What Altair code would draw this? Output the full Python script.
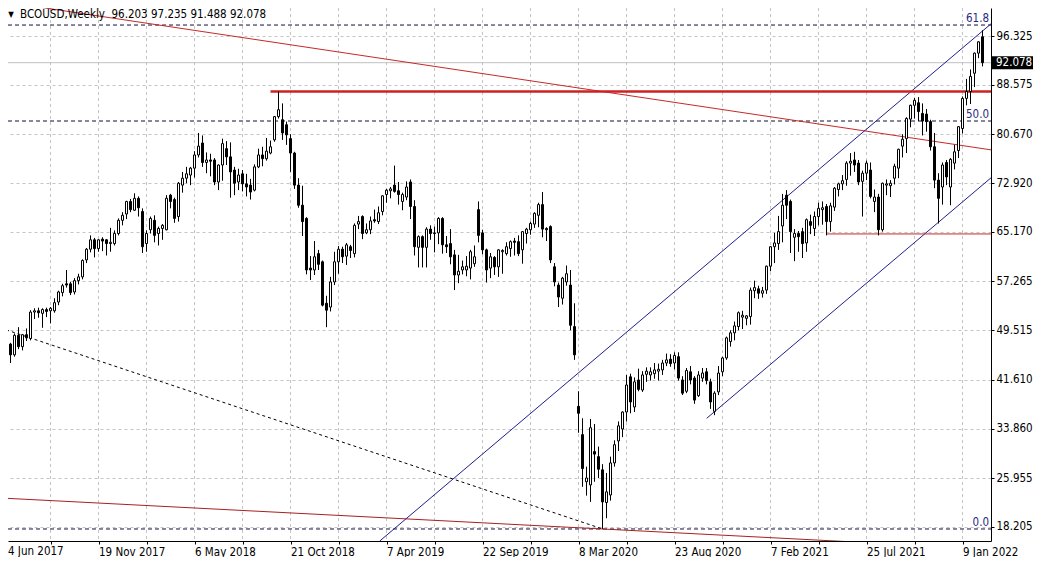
import altair as alt
import pandas as pd

# ---------------- data ----------------
x_labels = ["4 Jun 2017", "19 Nov 2017", "6 May 2018", "21 Oct 2018", "7 Apr 2019",
            "22 Sep 2019", "8 Mar 2020", "23 Aug 2020", "7 Feb 2021", "25 Jul 2021", "9 Jan 2022"]
price_ticks = [96.325, 88.575, 80.670, 72.920, 65.170, 57.265, 49.515, 41.610, 33.860, 25.955, 18.205]

opens = [50.1, 48.2, 47.3, 45.6, 48.7, 46.9, 48.8, 48.2, 52.4, 52.6, 52.2, 52.8, 52.6, 52.6, 54.0, 55.5,
         56.9, 56.9, 55.6, 57.4, 58.0, 60.7, 62.4, 63.9, 62.5, 64.0, 63.9, 63.3, 63.3, 64.9, 67.0, 68.0,
         70.0, 68.6, 70.5, 68.4, 63.3, 65.5, 67.0, 64.9, 65.7, 65.5, 71.0, 70.3, 67.6, 72.6, 73.7, 74.2,
         75.3, 77.4, 79.3, 76.2, 76.6, 76.6, 73.1, 75.8, 78.4, 77.1, 75.0, 73.1, 74.4, 72.8, 72.6, 71.8,
         75.5, 77.4, 76.8, 77.7, 79.8, 83.5, 83.0, 82.2, 80.0, 77.7, 72.6, 69.4, 67.3, 59.4, 59.1, 61.7,
         60.4, 53.8, 53.2, 57.2, 60.4, 62.4, 61.3, 62.8, 61.7, 66.4, 67.6, 65.0, 65.5, 67.1, 66.8, 68.4,
         71.1, 71.7, 72.6, 71.7, 70.0, 70.7, 73.1, 69.2, 62.7, 64.4, 62.7, 65.6, 65.0, 65.0, 67.3, 63.1,
         63.3, 61.5, 58.3, 59.1, 59.1, 59.4, 60.1, 68.7, 65.0, 62.3, 59.4, 61.1, 59.6, 62.0, 61.7, 62.5,
         63.7, 63.6, 62.3, 64.9, 65.5, 66.4, 67.8, 69.5, 65.7, 66.0, 59.6, 56.7, 54.6, 57.2, 56.7, 50.1,
         37.4, 32.9, 25.4, 24.9, 30.2, 29.4, 27.3, 22.1, 23.3, 28.4, 31.9, 33.8, 36.5, 42.1, 37.3, 41.6,
         40.0, 42.5, 42.4, 42.6, 43.0, 43.2, 44.3, 44.9, 44.3, 45.3, 41.6, 39.8, 42.9, 41.9, 39.1, 41.9,
         42.9, 41.3, 36.6, 39.7, 42.9, 45.1, 47.7, 49.1, 50.1, 51.6, 51.4, 51.7, 55.8, 56.1, 55.4, 55.9,
         59.7, 62.8, 63.3, 66.1, 71.0, 70.0, 64.3, 64.9, 65.2, 63.4, 66.8, 65.7, 67.6, 68.7, 69.2, 66.8,
         69.1, 71.9, 72.8, 73.5, 76.1, 76.6, 76.1, 73.2, 74.5, 75.0, 70.0, 70.7, 65.5, 72.6, 72.5, 73.7,
         75.3, 78.8, 80.0, 83.1, 85.3, 85.7, 84.0, 83.9, 82.7, 78.7, 73.4, 72.3, 76.2, 72.3, 76.1, 78.1,
         81.6, 86.4, 87.5, 90.4, 93.6, 96.203]
highs = [50.5, 48.6, 47.5, 49.0, 50.0, 48.9, 49.8, 52.7, 53.0, 53.1, 53.0, 53.1, 53.2, 54.6, 55.8, 56.9,
         59.1, 57.2, 57.8, 58.5, 60.8, 62.6, 64.6, 64.2, 64.0, 64.3, 64.0, 65.8, 65.4, 67.3, 68.3, 70.1,
         70.4, 71.3, 70.8, 68.9, 65.4, 67.6, 67.8, 66.0, 66.4, 71.0, 71.2, 70.6, 73.1, 74.7, 75.5, 75.5,
         78.0, 80.9, 80.5, 77.8, 77.6, 76.9, 75.9, 80.0, 79.6, 79.4, 75.5, 75.2, 75.0, 74.4, 73.6, 75.9,
         78.4, 78.7, 80.1, 79.7, 83.6, 87.5, 85.6, 82.7, 80.7, 77.9, 73.7, 72.5, 67.5, 61.3, 63.7, 62.3,
         60.6, 55.0, 58.0, 62.0, 62.9, 62.8, 63.4, 63.1, 66.5, 67.7, 67.8, 66.5, 67.6, 68.7, 69.2, 71.0,
         72.0, 72.3, 75.7, 73.1, 71.4, 73.2, 73.5, 70.2, 64.6, 64.6, 65.9, 66.2, 66.0, 67.5, 67.5, 64.5,
         65.6, 62.3, 61.5, 60.6, 61.3, 62.3, 63.0, 70.0, 65.5, 62.5, 61.8, 61.3, 62.4, 62.4, 63.5, 63.8,
         64.2, 64.6, 65.3, 65.8, 66.8, 68.3, 69.8, 71.5, 65.9, 66.2, 60.2, 57.1, 58.0, 59.8, 59.1, 53.8,
         39.8, 35.5, 27.8, 35.4, 34.6, 31.0, 28.2, 26.8, 29.4, 32.0, 35.0, 36.6, 42.4, 42.6, 42.0, 43.4,
         43.0, 43.6, 43.6, 44.3, 44.2, 44.8, 45.8, 45.7, 46.0, 46.0, 42.2, 43.5, 43.8, 42.2, 43.0, 43.5,
         43.5, 41.8, 39.8, 43.8, 45.3, 48.5, 49.5, 50.9, 52.5, 52.6, 51.9, 56.3, 57.4, 56.6, 56.4, 59.8,
         62.9, 65.0, 67.7, 71.2, 71.8, 70.3, 65.6, 65.3, 65.8, 67.3, 67.9, 68.4, 69.8, 70.0, 69.6, 69.8,
         72.3, 73.0, 74.2, 76.4, 77.7, 77.9, 76.6, 74.9, 76.5, 76.2, 71.9, 71.2, 73.0, 73.5, 73.4, 76.0,
         78.4, 80.7, 83.4, 85.4, 86.5, 86.6, 85.6, 84.7, 83.0, 80.9, 74.5, 76.2, 76.6, 76.9, 79.0, 82.0,
         86.7, 89.5, 91.0, 93.7, 95.5, 97.235]
lows = [47.6, 46.3, 44.3, 45.3, 46.5, 46.3, 47.8, 47.9, 51.3, 51.5, 49.9, 51.6, 50.6, 52.3, 53.5, 54.9,
        56.3, 55.1, 55.2, 56.8, 57.6, 60.2, 61.9, 61.1, 62.0, 62.1, 61.4, 62.0, 63.0, 64.6, 66.2, 67.2,
        68.3, 68.5, 67.6, 61.8, 62.0, 64.9, 63.5, 63.0, 63.9, 65.4, 68.9, 66.6, 66.8, 71.4, 72.9, 72.6,
        73.8, 77.0, 75.5, 74.5, 74.0, 72.6, 71.8, 73.3, 75.8, 70.6, 71.0, 71.8, 71.6, 70.8, 70.3, 71.6,
        75.3, 75.6, 76.5, 77.5, 79.5, 83.2, 79.8, 79.0, 74.7, 72.0, 69.0, 64.5, 58.4, 57.5, 58.3, 59.1,
        53.3, 50.0, 52.5, 56.7, 58.5, 60.2, 59.9, 61.0, 61.1, 65.6, 64.0, 64.8, 64.8, 66.6, 66.4, 67.8,
        69.8, 70.5, 71.4, 69.5, 68.6, 70.2, 67.2, 61.4, 59.5, 59.5, 59.5, 63.9, 61.9, 63.2, 61.7, 61.8,
        60.0, 55.9, 57.0, 58.4, 58.1, 57.6, 59.6, 63.5, 61.6, 57.1, 57.8, 58.3, 58.0, 58.5, 61.4, 61.2,
        61.4, 61.3, 60.1, 63.3, 64.7, 65.8, 65.9, 64.3, 63.7, 60.2, 56.5, 53.2, 53.6, 56.6, 49.5, 44.8,
        33.2, 24.6, 23.2, 22.2, 25.4, 26.0, 17.9, 19.6, 22.4, 27.8, 30.3, 32.5, 35.0, 36.3, 36.5, 39.8,
        39.7, 41.3, 41.5, 41.8, 41.5, 42.4, 43.8, 43.7, 43.3, 41.5, 39.2, 39.5, 40.9, 37.8, 38.9, 41.3,
        40.9, 37.0, 36.0, 39.2, 42.2, 44.8, 46.9, 47.9, 49.5, 49.7, 50.3, 50.4, 54.6, 54.5, 54.7, 55.3,
        58.9, 60.2, 62.3, 63.5, 67.2, 61.8, 60.5, 62.0, 61.0, 62.0, 64.8, 64.5, 66.2, 66.3, 64.6, 65.2,
        68.5, 70.8, 71.8, 72.5, 74.1, 74.7, 72.6, 67.6, 73.4, 70.5, 68.3, 64.6, 65.2, 71.0, 70.7, 72.7,
        73.7, 77.0, 77.7, 81.8, 83.2, 82.8, 80.5, 81.1, 78.1, 72.1, 66.5, 69.5, 72.6, 69.4, 75.1, 76.9,
        80.8, 85.3, 85.5, 88.2, 92.8, 91.488]
closes = [48.0, 47.3, 45.6, 48.7, 46.9, 48.8, 48.3, 52.4, 52.6, 52.3, 52.8, 52.5, 53.0, 53.9, 55.6, 56.6,
          56.7, 55.5, 57.4, 58.0, 60.6, 62.4, 63.9, 62.5, 63.9, 63.7, 63.3, 63.5, 64.9, 67.0, 67.8, 70.0,
          68.7, 70.5, 69.0, 62.8, 64.9, 67.3, 64.6, 65.7, 66.2, 70.5, 70.0, 67.3, 72.9, 73.7, 74.4, 75.3,
          77.4, 78.8, 76.2, 76.6, 76.4, 73.1, 75.8, 79.2, 77.1, 74.7, 72.9, 74.2, 72.8, 72.3, 71.5, 75.5,
          77.4, 76.8, 78.0, 78.7, 83.5, 84.6, 80.9, 80.6, 77.7, 72.6, 69.4, 66.8, 59.1, 59.1, 61.2, 60.0,
          53.5, 52.7, 57.2, 60.4, 62.4, 61.2, 63.1, 62.2, 66.2, 66.8, 64.9, 65.5, 66.9, 66.9, 68.2, 70.9,
          71.8, 72.0, 71.6, 71.1, 71.1, 72.3, 69.2, 62.8, 64.4, 62.7, 65.6, 64.9, 64.9, 67.3, 63.1, 62.8,
          61.2, 58.3, 58.9, 59.6, 59.7, 62.0, 61.2, 64.6, 62.3, 59.1, 61.2, 59.6, 62.3, 62.2, 62.8, 63.6,
          63.5, 61.7, 65.2, 65.6, 66.5, 68.1, 69.5, 65.6, 65.5, 60.7, 57.2, 54.8, 57.8, 58.5, 50.3, 45.6,
          36.3, 27.5, 26.0, 34.0, 29.8, 27.4, 22.2, 23.8, 28.4, 31.3, 34.3, 36.5, 40.8, 38.1, 41.3, 40.1,
          42.4, 43.0, 42.9, 43.2, 43.3, 44.3, 44.8, 44.2, 45.5, 41.9, 39.5, 43.1, 41.6, 38.4, 42.4, 42.7,
          41.5, 38.1, 39.5, 42.7, 45.1, 48.3, 49.1, 50.2, 52.3, 51.9, 51.8, 55.9, 56.3, 55.4, 55.8, 59.7,
          62.8, 63.4, 65.2, 69.4, 69.4, 65.2, 64.9, 64.4, 63.3, 67.1, 66.2, 67.6, 68.9, 69.0, 66.8, 69.3,
          72.1, 72.8, 73.3, 76.1, 76.4, 75.8, 73.1, 74.5, 76.1, 70.8, 70.7, 65.5, 72.9, 72.8, 72.9, 75.6,
          78.3, 79.9, 83.2, 85.3, 86.1, 84.3, 82.8, 82.7, 78.7, 73.4, 70.5, 75.8, 73.9, 76.7, 77.9, 81.9,
          86.4, 87.5, 89.9, 93.6, 95.4, 92.078]

# drawn objects, as (bar index, price) end points
red_trend_i, red_trend_p = [-0.5, 247.2], [101.85, 78.20]
red_low_i, red_low_p = [-0.5, 247.2], [22.82, 14.70]
dotted_i, dotted_p = [-0.5, 150.0], [49.87, 17.90]
chan_up_i, chan_up_p = [94.3, 247.2], [15.97, 98.30]
chan_lo_i, chan_lo_p = [176.05, 247.2], [35.50, 73.80]
resist_i, resist_p = [67.0, 247.2], [87.5, 87.5]
support_i, support_p = [205.9, 247.2], [64.83, 64.83]
fib_names = ["61.8", "50.0", "0.0"]
fib_prices = [98.07, 82.80, 17.89]
last_price = [92.078]
header_text = "BCOUSD,Weekly\u00a0\u00a096.203 97.235 91.488 92.078"

# ---------------- layout ----------------
W, H = 983, 533
PX_PER_BAR = 4.0
X_MIN = 1.375
X_MAX = X_MIN + W / PX_PER_BAR
PX_PER_UNIT = 6.2852
Y_MAX = 96.325 + 28 / PX_PER_UNIT
Y_MIN = Y_MAX - H / PX_PER_UNIT
FONT = "'DejaVu Sans Condensed', 'Liberation Sans', sans-serif"
FS = 11.5

n = len(opens)
candles = pd.DataFrame({"i": list(range(n)), "o": opens, "h": highs, "l": lows, "c": closes})

X_SCALE = alt.Scale(domain=[X_MIN, X_MAX], nice=False, zero=False)
Y_SCALE = alt.Scale(domain=[Y_MIN, Y_MAX], nice=False, zero=False)
labels_js = "[" + ",".join("'%s'" % s for s in x_labels) + "]"
X_AXIS = alt.Axis(values=list(range(0, 241, 12)),
                  labelExpr=f"datum.value % 24 == 0 ? {labels_js}[datum.value / 24] : ''",
                  labelAlign="left", labelPadding=2, tickSize=3, tickColor="black",
                  domain=True, domainColor="black", grid=False, title=None,
                  labelOverlap=False, labelFlush=False, labelBound=False)
Y_AXIS = alt.Axis(orient="right", values=price_ticks, format=".3f", tickSize=3, tickColor="black",
                  labelPadding=2, domain=True, domainColor="black", grid=True,
                  gridDash=[3, 3], gridColor="#c4c4c4", title=None,
                  labelOverlap=False, labelFlush=False, labelBound=False)


def xq(field):
    return alt.X(f"{field}:Q", scale=X_SCALE, axis=X_AXIS)


def yq(field):
    return alt.Y(f"{field}:Q", scale=Y_SCALE, axis=Y_AXIS)


grid_df = pd.DataFrame({"i": list(range(12, 247, 12))})
vgrid = alt.Chart(grid_df).mark_rule(color="#c4c4c4", strokeDash=[3, 3], strokeWidth=1).encode(
    x=xq("i"), y=alt.value(0), y2=alt.value(H))


def seg(ii, pp, color, width=1.0, dash=None):
    df = pd.DataFrame({"i": ii, "p": pp})
    kw = dict(color=color, strokeWidth=width, clip=True)
    if dash:
        kw["strokeDash"] = dash
    return alt.Chart(df).mark_line(**kw).encode(x=xq("i"), y=yq("p"))


fib_df = pd.DataFrame({"name": fib_names, "p": fib_prices, "i0": [X_MIN] * 3, "i1": [X_MAX] * 3})
fib_lines = alt.Chart(fib_df).mark_rule(color="#10103a", strokeDash=[4, 3], strokeWidth=1).encode(
    x=xq("i0"), x2="i1:Q", y=yq("p"))
fib_text = alt.Chart(fib_df).mark_text(align="right", baseline="bottom", dy=-1, font=FONT,
                                       fontSize=FS, color="#2a2a80").encode(
    x=alt.value(W - 2), y=yq("p"), text="name:N")

last_df = pd.DataFrame({"p": last_price, "i0": [X_MIN], "i1": [X_MAX]})
last_line = alt.Chart(last_df).mark_rule(color="#c0c0c0", strokeWidth=1).encode(
    x=xq("i0"), x2="i1:Q", y=yq("p"))
last_box = alt.Chart(last_df).transform_calculate(
    pt=f"datum.p + 6.5 / {PX_PER_UNIT}", pb=f"datum.p - 6.5 / {PX_PER_UNIT}"
).mark_rect(color="black", clip=False).encode(
    x=alt.value(W + 1), x2=alt.value(W + 46), y=yq("pt"), y2="pb:Q")
last_txt = alt.Chart(last_df).mark_text(align="left", baseline="middle", font=FONT, fontSize=FS,
                                        color="white", clip=False).encode(
    x=alt.value(W + 5), y=yq("p"), text=alt.Text("p:Q", format=".3f"))

wicks = alt.Chart(candles).mark_rule(color="black", strokeWidth=1, clip=True).encode(
    x=xq("i"), y=yq("l"), y2="h:Q")
bodies = alt.Chart(candles).transform_calculate(
    x0="datum.i - 0.25", x1="datum.i + 0.25"
).mark_rect(stroke="black", strokeWidth=1, clip=True).encode(
    x=xq("x0"), x2="x1:Q", y=yq("o"), y2="c:Q",
    fill=alt.condition("datum.c >= datum.o", alt.value("white"), alt.value("black")))

hdr_df = pd.DataFrame({"t": [header_text], "tri": ["\u25bc"], "first": [x_labels[0]]})
hdr = alt.Chart(hdr_df).mark_text(align="left", baseline="middle", font=FONT, fontSize=FS,
                                  color="black").encode(x=alt.value(12), y=alt.value(7), text="t:N")
tri = alt.Chart(hdr_df).mark_text(align="center", baseline="middle", font=FONT, fontSize=8,
                                  color="black").encode(x=alt.value(3), y=alt.value(7), text="tri:N")
# first date label: its bar lies just left of the visible page area
first_lbl = alt.Chart(hdr_df).mark_text(align="left", baseline="top", font=FONT, fontSize=FS,
                                        color="black", clip=False).encode(
    x=alt.value(0), y=alt.value(H + 5), text="first:N")

RED = "#c62828"
BLUE = "#1e1e90"
chart = alt.layer(
    vgrid,
    fib_lines,
    last_line,
    seg(red_trend_i, red_trend_p, RED, 1),
    seg(red_low_i, red_low_p, "#a82020", 1),
    seg(dotted_i, dotted_p, "black", 1, [3, 3]),
    seg(chan_up_i, chan_up_p, BLUE, 1),
    seg(chan_lo_i, chan_lo_p, BLUE, 1),
    seg(resist_i, resist_p, "#cc2222", 2.5),
    seg(support_i, support_p, RED, 1),
    wicks,
    bodies,
    fib_text,
    last_box,
    last_txt,
    hdr,
    tri,
    first_lbl,
).properties(
    width=W, height=H,
    padding={"left": 0, "top": 0, "right": 42, "bottom": 16},
    autosize=alt.AutoSizeParams(type="none"),
    background="white",
).configure_view(stroke=None).configure_axis(
    labelFont=FONT, labelFontSize=FS, labelColor="black"
)

chart.save("out.html", embed_options={"renderer": "svg", "actions": False})
